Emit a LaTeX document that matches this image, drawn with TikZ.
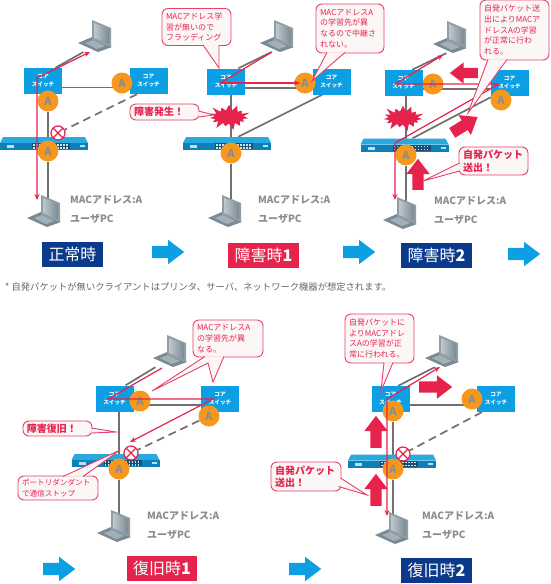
\documentclass[tikz,border=0pt]{standalone}
\usepackage{fontspec}
\setmainfont{Noto Sans CJK JP}
\usetikzlibrary{arrows.meta,backgrounds,shapes.arrows,shapes.symbols}
\definecolor{corecol}{HTML}{0D9FE3}
\definecolor{redcol}{HTML}{E5234C}
\definecolor{pinkcol}{HTML}{E8406A}
\definecolor{navycol}{HTML}{0B3A8C}
\definecolor{orangecol}{HTML}{F7981D}
\definecolor{linecol}{HTML}{707070}
\definecolor{textcol}{HTML}{8C8C8C}
\definecolor{callcol}{HTML}{FCF7F7}
\definecolor{lapdark}{HTML}{7A8A94}
\definecolor{lapmid}{HTML}{A3B0B7}
\definecolor{lapscreen}{HTML}{8E9DA6}
\definecolor{hubtop}{HTML}{2AA9DE}
\definecolor{hubfront}{HTML}{0F7FB8}
\definecolor{hubport}{HTML}{1B4F6E}
\tikzset{
	core/.style={fill=corecol,text=white,minimum width=38pt,minimum height=26pt,inner sep=0pt,align=center,
		font=\fontsize{5.6}{8}\selectfont\bfseries},
	badge/.style={circle,fill=orangecol,text=textcol,minimum size=21pt,inner sep=0pt,font=\fontsize{11}{11}\selectfont\bfseries},
	stopmark/.style={circle,draw=redcol,fill=white,line width=1.2pt,minimum size=14pt,inner sep=0pt,path picture={
		\draw[redcol,line width=1.2pt] (path picture bounding box.north west) -- (path picture bounding box.south east);
		\draw[redcol,line width=1.2pt] (path picture bounding box.north east) -- (path picture bounding box.south west);
	}},
	laptop/.style={minimum width=34pt,minimum height=32pt,inner sep=0pt},
	hub/.style={minimum width=88pt,minimum height=13pt,inner sep=0pt},
	lapdraw/.pic={
		\begin{scope}[x=1pt,y=-1pt,shift={(-17,-16)}]
			\fill[lapdark] (0,23) -- (14,17) -- (34,27) -- (20,32) -- cycle;
			\fill[lapmid] (7,23) -- (15,20) -- (27,26) -- (19,29) -- cycle;
			\fill[lapscreen] (14,0) -- (33,8) -- (33,27) -- (14,20) -- cycle;
			\shade[left color=lapmid!70!white,right color=lapdark] (16,3) -- (31,9) -- (31,24) -- (16,18) -- cycle;
		\end{scope}
	},
	hubdraw/.pic={
		\begin{scope}[x=1pt,y=-1pt,shift={(-44,-6.5)}]
			\fill[hubtop] (3,0) -- (85,0) -- (88,6) -- (0,6) -- cycle;
			\fill[hubfront] (0,6) rectangle (88,13);
			\fill[hubport] (32,6) rectangle (70,12);
			\foreach \px in {33,36,...,68} {
				\fill[white!75!corecol] (\px,7) rectangle +(1.5,1.5);
				\fill[white!75!corecol] (\px,10) rectangle +(1.5,1.5);
			}
			\fill[white!70!corecol] (7,8) rectangle (14,11);
			\fill[white!70!corecol] (80,8) rectangle (85,10);
		\end{scope}
	},
	wire/.style={linecol,line width=1.7pt},
	lostwire/.style={wire,dash pattern=on 8pt off 5pt},
	flow/.style={redcol,line width=1.2pt},
	callout/.style={draw=pinkcol,fill=callcol,line width=0.9pt,rounded corners=6pt,inner sep=4pt,align=left,
		text=redcol,font=\fontsize{8}{10.8}\selectfont},
	bigcall/.style={callout,font=\fontsize{10}{12.5}\selectfont\bfseries},
	calltail/.style={draw=pinkcol,fill=callcol,line width=0.9pt},
	fat/.style={single arrow,fill=redcol,anchor=tail,inner xsep=0pt,inner ysep=5.5pt,minimum width=23pt,single arrow head extend=6pt,
		single arrow tip angle=75},
	nextarrow/.style={single arrow,fill=corecol,anchor=tail,inner xsep=0pt,inner ysep=6pt,minimum height=32pt,minimum width=24pt,
		single arrow head extend=6pt,single arrow tip angle=74},
	caption/.style={text=white,minimum width=71pt,minimum height=25pt,inner sep=0pt,font=\fontsize{16}{16}\selectfont},
	info/.style={anchor=west,inner sep=0pt,text=textcol,font=\fontsize{10}{10}\selectfont\bfseries},
	crash/.style={starburst,fill=redcol,inner sep=0pt,starburst points=15,starburst point height=8pt,minimum width=45pt,minimum height=29pt}
}
\newcommand{\lapnode}[2]{\node[laptop] (#1) at (#2) {}; \pic at (#1) {lapdraw};}
\newcommand{\hubnode}[2]{\node[hub] (#1) at (#2) {}; \pic at (#1) {hubdraw};}
\begin{document}
\begin{tikzpicture}[x=1pt,y=-1pt]
	\useasboundingbox (0,0) rectangle (550,584);
	% normal
	\node[core] (sw1L) at (43,81) {コア\\スイッチ};
	\node[core] (sw1R) at (148.5,81) {コア\\スイッチ};
	\lapnode{pc1T}{95,36}
	\lapnode{pc1B}{44,211}
	\hubnode{hub1}{44,143.5}
	\node[badge] (badge1L) at (48,101) {A};
	\node[badge] (badge1R) at (122,83) {A};
	\node[badge] (badge1H) at (48,151) {A};
	\node[stopmark] (stop1) at (58,133) {};
	\node[info] (mac1) at (70,200) {MACアドレス:A};
	\node[info] (user1) at (70,219) {ユーザPC};
	\node[caption,fill=navycol,minimum width=61pt] (cap1) at (72.5,254.5) {正常時};
	\node[nextarrow] (next1) at (152,252) {};
	\coordinate (turn1) at (37,78);
	\coordinate (end1T) at (90,52);
	\coordinate (end1B) at (37,200);
	\begin{scope}[on background layer]
		\draw[wire] (sw1L.47) -- (pc1T.234);
		\draw[wire] (sw1L.-19) -- (sw1L.-19 -| badge1R.center);
		\draw[wire] (badge1L) -- (badge1H) -- (badge1H |- pc1B.center);
		\draw[lostwire] (sw1R.229) -- (stop1);
	\end{scope}
	\draw[flow,{Stealth[length=6pt,width=5pt]}-{Stealth[length=6pt,width=5pt]}] (end1B) -- (turn1) -- (end1T);

	% failure 1
	\node[core] (sw2L) at (226,81.5) {コア\\スイッチ};
	\node[core] (sw2R) at (331.5,81.5) {コア\\スイッチ};
	\lapnode{pc2T}{277,36}
	\lapnode{pc2B}{225,211}
	\hubnode{hub2}{227,143.5}
	\node[badge] (badge2R) at (305,83) {A};
	\node[badge] (badge2H) at (231,153) {A};
	\node[crash] (crash2) at (229,117) {};
	\node[info] (mac2) at (258,200) {MACアドレス:A};
	\node[info] (user2) at (258,219) {ユーザPC};
	\node[caption,fill=redcol] (cap2) at (263.5,255) {障害時{\bfseries 1}};
	\node[nextarrow] (next2) at (343,252) {};
	\coordinate (turn2) at (220,83);
	\coordinate (end2T) at (272,52);
	\coordinate (end2R) at (300,83);
	\begin{scope}[on background layer]
		\draw[wire] (sw2L.47) -- (pc2T.250);
		\draw[wire] (sw2L.-19) -- (sw2R.199);
		\draw[wire] (badge2H |- sw2L.south) -- (badge2H) -- (badge2H |- pc2B.center);
		\draw[wire] (sw2R.235) -- (hub2.31);
	\end{scope}
	\draw[flow] (end2T) -- (turn2);
	\draw[flow,-{Stealth[length=6pt,width=5pt]}] (turn2) -- (end2R);
	\node[callout,text width=61pt,minimum height=36pt] (call2a) at (196.5,27) {MACアドレス学\\習が無いので\\フラッディング};
	\node[callout,text width=60pt,minimum height=49pt] (call2b) at (350,28.5) {MACアドレスA\\の学習先が異\\なるので中継さ\\れない。};
	\node[bigcall,text width=61pt,minimum height=16pt,inner ysep=0pt] (call2c) at (164.5,112) {障害発生！};
	\coordinate (tip2a) at (219,68);
	\coordinate (tip2b) at (312,81);
	\coordinate (tip2c) at (214,115);
	\filldraw[calltail] ([xshift=6.5pt,yshift=1pt]call2a.south) -- (tip2a) -- ([xshift=22.5pt,yshift=1pt]call2a.south);
	\filldraw[calltail] ([xshift=-23pt,yshift=1pt]call2b.south) -- (tip2b) -- ([xshift=-5pt,yshift=1pt]call2b.south);
	\filldraw[calltail] ([xshift=-1pt,yshift=1pt]call2c.east) -- (tip2c) -- ([xshift=-1pt,yshift=-5pt]call2c.east);

	% failure 2
	\node[core] (sw3L) at (403.5,83) {コア\\スイッチ};
	\node[core] (sw3R) at (509.5,83) {コア\\スイッチ};
	\lapnode{pc3T}{450,37}
	\lapnode{pc3B}{400,213}
	\hubnode{hub3}{404.5,145}
	\node[badge] (badge3L) at (433,84) {A};
	\node[badge] (badge3R) at (501,100) {A};
	\node[badge] (badge3H) at (406,155) {A};
	\node[crash] (crash3) at (403,118) {};
	\node[info] (mac3) at (434,201) {MACアドレス:A};
	\node[info] (user3) at (434,220) {ユーザPC};
	\node[caption,fill=navycol] (cap3) at (436.5,255.5) {障害時{\bfseries 2}};
	\node[nextarrow] (next3) at (508,254) {};
	\node[fat,minimum height=28pt,minimum width=21pt,inner ysep=5pt,single arrow head extend=5.5pt,rotate=180] (fat3a) at (478,73) {};
	\node[fat,minimum height=30pt,rotate=32] (fat3b) at (452,133) {};
	\node[fat,minimum height=31pt,rotate=90] (fat3c) at (418,190) {};
	\coordinate (turn3) at (395,84);
	\coordinate (far3) at (499,84);
	\coordinate (drop3) at (395,143);
	\coordinate (end3T) at (443,55);
	\coordinate (end3B) at (395,200);
	\begin{scope}[on background layer]
		\draw[wire] (sw3L.57) -- (pc3T.257);
		\draw[wire] (sw3L.-17) -- (sw3R.197);
		\draw[wire] (badge3H |- sw3L.south) -- (badge3H) -- (badge3H |- pc3B.center);
		\draw[wire] (badge3R.165) -- (hub3.40);
	\end{scope}
	\draw[flow,-{Stealth[length=6pt,width=5pt]}] (turn3) -- (end3T);
	\draw[flow,-{Stealth[length=6pt,width=5pt]}] (turn3) -- (far3) -- (drop3) -- (end3B);
	\node[callout,text width=61pt,minimum height=60pt] (call3a) at (514.5,30) {自発パケット送\\出によりMACア\\ドレスAの学習\\が正常に行わ\\れる。};
	\node[bigcall,text width=61pt,minimum height=28pt,inner ysep=0pt] (call3b) at (493.5,161) {自発パケット\\送出！};
	\coordinate (tip3a) at (468,113);
	\coordinate (tip3b) at (423,181);
	\filldraw[calltail] ([xshift=-26.5pt,yshift=1pt]call3a.south) -- (tip3a) -- ([xshift=-7.5pt,yshift=1pt]call3a.south);
	\filldraw[calltail] ([xshift=1pt,yshift=-2pt]call3b.west) -- (tip3b) -- ([xshift=1pt,yshift=-10pt]call3b.west);

	\node[anchor=west,inner sep=0pt,text=black!60,font=\fontsize{9.3}{10}\selectfont] (note) at (5,287) {* 自発パケットが無いクライアントはプリンタ、サーバ、ネットワーク機器が想定されます。};

	% recovery 1
	\node[core] (sw4L) at (114.5,398.5) {コア\\スイッチ};
	\node[core] (sw4R) at (220,398.5) {コア\\スイッチ};
	\lapnode{pc4T}{170,351}
	\lapnode{pc4B}{114,526}
	\hubnode{hub4}{115.5,460.5}
	\node[badge] (badge4L) at (140,401) {A};
	\node[badge] (badge4R) at (209,416) {A};
	\node[badge] (badge4H) at (119,469) {A};
	\node[stopmark] (stop4) at (131,453) {};
	\node[info] (mac4) at (147,516) {MACアドレス:A};
	\node[info] (user4) at (147,535) {ユーザPC};
	\node[caption,fill=redcol,minimum width=70pt] (cap4) at (162,568.5) {復旧時{\bfseries 1}};
	\node[nextarrow] (next4) at (43,569) {};
	\coordinate (turn4) at (108,399);
	\coordinate (far4) at (213,399);
	\coordinate (end4T) at (162,368);
	\coordinate (end4X) at (130,442);
	\begin{scope}[on background layer]
		\draw[wire] (sw4L.50) -- (pc4T.228);
		\draw[wire] (sw4L.-19) -- (sw4R.199);
		\draw[wire] (badge4H |- sw4L.south) -- (badge4H) -- (badge4H |- pc4B.center);
		\draw[lostwire] (badge4R) -- (stop4);
	\end{scope}
	\draw[flow,-{Stealth[length=6pt,width=5pt]}] (end4T) -- (turn4) -- (far4) -- (end4X);
	\node[callout,text width=62pt,minimum height=37pt] (call4a) at (228,338.5) {MACアドレスA\\の学習先が異\\なる。};
	\node[bigcall,text width=61pt,minimum height=15pt,inner ysep=0pt] (call4b) at (57.5,428.5) {障害復旧！};
	\node[callout,text width=72pt,minimum height=24pt,inner ysep=0pt,font=\fontsize{7.6}{10.5}\selectfont] (call4c) at (58,488) {ポートリダンダント\\で通信ストップ};
	\coordinate (tip4a) at (152,391);
	\coordinate (tail4a) at (208,363);
	\coordinate (tip4b) at (213,382);
	\coordinate (tip4c) at (116,432);
	\coordinate (tip4d) at (120,450);
	\filldraw[calltail] ([xshift=-23pt,yshift=1pt]call4a.south) -- (tip4a) -- (tail4a) -- (tip4b) -- ([xshift=-4pt,yshift=1pt]call4a.south);
	\filldraw[calltail] ([xshift=-1pt,yshift=0.5pt]call4b.east) -- (tip4c) -- ([xshift=-1pt,yshift=-4.5pt]call4b.east);
	\filldraw[calltail] ([xshift=5pt,yshift=-1pt]call4c.north) -- (tip4d) -- ([xshift=25pt,yshift=-1pt]call4c.north);

	% recovery 2
	\node[core] (sw5L) at (390.5,399) {コア\\スイッチ};
	\node[core] (sw5R) at (496,399) {コア\\スイッチ};
	\lapnode{pc5T}{442,351}
	\lapnode{pc5B}{392,528}
	\hubnode{hub5}{392,461}
	\node[badge] (badge5L) at (393,411) {A};
	\node[badge] (badge5R) at (472,399) {A};
	\node[badge] (badge5H) at (393,469) {A};
	\node[stopmark] (stop5) at (403,454) {};
	\node[info] (mac5) at (422,516) {MACアドレス:A};
	\node[info] (user5) at (422,535) {ユーザPC};
	\node[caption,fill=navycol] (cap5) at (436.5,570.5) {復旧時{\bfseries 2}};
	\node[nextarrow] (next5) at (289,569) {};
	\node[fat,minimum height=33pt,rotate=0] (fat5a) at (419,387) {};
	\node[fat,minimum height=32pt,rotate=90] (fat5b) at (376,448) {};
	\node[fat,minimum height=32pt,rotate=90] (fat5c) at (376,506) {};
	\coordinate (turn5) at (387,399);
	\coordinate (end5T) at (440,367);
	\coordinate (end5B) at (387,516);
	\begin{scope}[on background layer]
		\draw[wire] (sw5L.60) -- (pc5T.246);
		\draw[wire] (sw5L.-18) -- (sw5L.-18 -| badge5R.center);
		\draw[wire] (badge5L) -- (badge5H) -- (badge5H |- pc5B.center);
		\draw[lostwire] (sw5R.223) -- (stop5);
	\end{scope}
	\draw[flow,{Stealth[length=6pt,width=5pt]}-{Stealth[length=6pt,width=5pt]}] (end5B) -- (turn5) -- (end5T);
	\node[callout,text width=61pt,minimum height=49pt] (call5a) at (379.5,338.5) {自発パケットに\\よりMACアドレ\\スAの学習が正\\常に行われる。};
	\node[bigcall,text width=62pt,minimum height=29pt,inner ysep=0pt] (call5b) at (306,476.5) {自発パケット\\送出！};
	\coordinate (tip5a) at (381,391);
	\coordinate (tip5b) at (367,495);
	\filldraw[calltail] ([xshift=4.5pt,yshift=1pt]call5a.south) -- (tip5a) -- ([xshift=13.5pt,yshift=1pt]call5a.south);
	\filldraw[calltail] ([xshift=-1pt,yshift=-1.5pt]call5b.east) -- (tip5b) -- ([xshift=-3pt,yshift=-10pt]call5b.east);
\end{tikzpicture}
\end{document}
